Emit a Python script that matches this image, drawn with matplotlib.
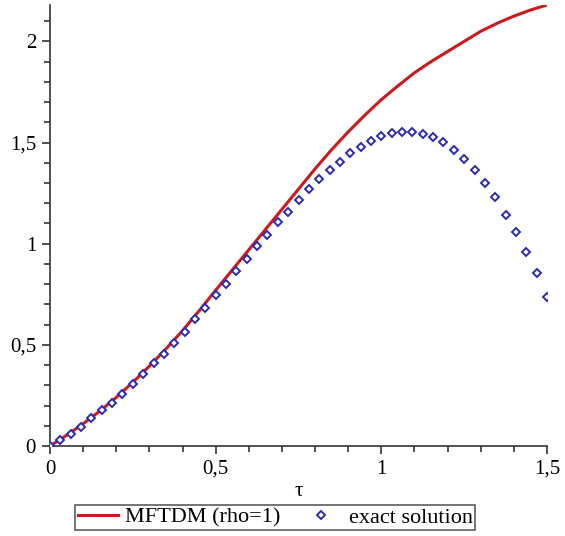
import matplotlib
matplotlib.use("Agg")
import matplotlib.pyplot as plt
import numpy as np
from matplotlib.ticker import MultipleLocator, FuncFormatter

# MFTDM curve (rho=1), read at steps of 0.05
tau_line = [0.0, 0.05, 0.1, 0.15, 0.2, 0.25, 0.3, 0.35, 0.4, 0.45, 0.5, 0.55, 0.6, 0.65,
            0.7, 0.75, 0.8, 0.85, 0.9, 0.95, 1.0, 1.05, 1.1, 1.15, 1.2, 1.25, 1.3, 1.35,
            1.4, 1.45, 1.5]
mftdm = [0.0, 0.053, 0.11, 0.172, 0.24, 0.315, 0.395, 0.48, 0.57, 0.668, 0.77, 0.87, 0.97, 1.07,
         1.17, 1.27, 1.37, 1.465, 1.553, 1.635, 1.712, 1.78, 1.845, 1.9, 1.95, 2.0, 2.05, 2.09,
         2.125, 2.155, 2.18]

# exact solution, 49 points from 0 to 1.5
n_pts = 49
exact = [0.0, 0.03, 0.058, 0.094, 0.137, 0.178, 0.214, 0.256, 0.305, 0.356,
         0.41, 0.455, 0.511, 0.566, 0.628, 0.681, 0.744, 0.802, 0.865, 0.924,
         0.987, 1.045, 1.107, 1.158, 1.214, 1.27, 1.32, 1.365, 1.406, 1.447,
         1.479, 1.51, 1.531, 1.548, 1.553, 1.551, 1.543, 1.528, 1.502, 1.462,
         1.421, 1.365, 1.3, 1.229, 1.143, 1.057, 0.959, 0.853, 0.739]
tau_pts = np.linspace(0, 1.5, n_pts)

plt.rcParams['font.family'] = ['Liberation Serif', 'DejaVu Serif']

fig = plt.figure(figsize=(5.65, 5.36), dpi=100)
ax = fig.add_axes([50/565, 1-446/536, 497/565, 441/536])

ax.plot(tau_line, mftdm, color='#cc1a1a', lw=2.2, label='MFTDM (rho=1)', zorder=2)
ax.plot(tau_pts, exact, ls='none', marker='D', ms=4, mfc='white', mec='#2b2bb8',
        mew=1.4, label='exact solution', zorder=3)

ax.set_xlim(0, 1.5)
ax.set_ylim(0, 2.18)
for s in ['top', 'right']:
    ax.spines[s].set_visible(False)
for s in ['left', 'bottom']:
    ax.spines[s].set_color('#333333')
    ax.spines[s].set_linewidth(1.2)

ax.xaxis.set_major_locator(MultipleLocator(0.5))
ax.xaxis.set_minor_locator(MultipleLocator(0.1))
ax.yaxis.set_major_locator(MultipleLocator(0.5))
ax.yaxis.set_minor_locator(MultipleLocator(0.1))
fmt = FuncFormatter(lambda v, p: ('%g' % v).replace('.', ','))
ax.xaxis.set_major_formatter(fmt)
ax.yaxis.set_major_formatter(fmt)
ax.tick_params(which='major', length=6, width=1.2, color='#333333', labelsize=15, pad=4)
ax.tick_params(which='minor', length=4, width=1.2, color='#333333')

ax.set_xlabel('τ', fontsize=15, labelpad=2)

fig.legend(loc='lower center', bbox_to_anchor=(0.487, 0.011), ncol=2, fontsize=16,
           frameon=True, fancybox=False, edgecolor='#333333', handlelength=1.8,
           borderpad=0.1, borderaxespad=0, handletextpad=0.35, columnspacing=0.9,
           markerscale=1.0)
leg = fig.legends[0]
leg.get_frame().set_linewidth(1.2)

fig.savefig('out.png', dpi=100, facecolor='white')
